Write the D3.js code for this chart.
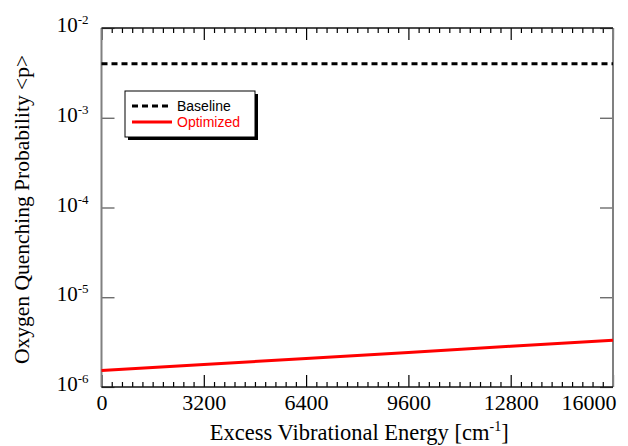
<!DOCTYPE html>
<html>
<head>
<meta charset="utf-8">
<script src="https://cdn.jsdelivr.net/npm/d3@7"></script>
<style>
  body { margin: 0; background: #fff; }
  svg { display: block; }
</style>
</head>
<body>
<div id="chart"></div>
<script>
// Oxygen quenching probability vs excess vibrational energy

const energy = [0, 3200, 6400, 9600, 12800, 16000];
const baseline = [4.0e-3, 4.0e-3, 4.0e-3, 4.0e-3, 4.0e-3, 4.0e-3];
const optimized = [1.53e-6, 1.78e-6, 2.08e-6, 2.43e-6, 2.84e-6, 3.31e-6];
const xTicks = [0, 3200, 6400, 9600, 12800, 16000];
const yTicks = [1e-6, 1e-5, 1e-4, 1e-3, 1e-2];
const yExp = ["-6", "-5", "-4", "-3", "-2"];
const legendNames = ["Baseline", "Optimized"];

const width = 628, height = 446;
const margin = { top: 28, right: 15, bottom: 59, left: 101.5 };
const w = width - margin.left - margin.right;
const h = height - margin.top - margin.bottom;

const svg = d3.select("#chart")
  .append("svg")
    .attr("width", width)
    .attr("height", height);

const g = svg.append("g")
  .attr("transform", `translate(${margin.left},${margin.top})`);

const x = d3.scaleLinear().domain([0, 16000]).range([0, w]);
const y = d3.scaleLog().domain([1e-6, 1e-2]).range([h, 0]);

const serif = "'Liberation Serif', 'Times New Roman', serif";

// minor x ticks every 320
const minorX = d3.range(0, 16001, 320).filter(v => v % 3200 !== 0);

// bottom axis
g.append("g")
  .attr("transform", `translate(0,${h})`)
  .call(d3.axisBottom(x).tickValues(minorX).tickSize(-5).tickFormat(""))
  .call(a => a.select(".domain").remove());

g.append("g")
  .attr("class", "xaxis")
  .attr("transform", `translate(0,${h})`)
  .call(d3.axisBottom(x).tickValues(xTicks).tickSize(-12).tickPadding(7).tickFormat(d3.format("d")))
  .call(a => a.select(".domain").remove())
  .call(a => a.selectAll("text")
    .style("font-family", serif)
    .style("font-size", "22px")
    .attr("fill", "#000"))
  .call(a => a.selectAll(".tick").filter(d => d === 16000).select("text")
    .attr("text-anchor", "end")
    .attr("x", 3));

// top axis
g.append("g")
  .call(d3.axisTop(x).tickValues(minorX).tickSize(-5).tickFormat(""))
  .call(a => a.select(".domain").remove());
g.append("g")
  .call(d3.axisTop(x).tickValues(xTicks).tickSize(-12).tickFormat(""))
  .call(a => a.select(".domain").remove());

// left & right axes
g.append("g")
  .call(d3.axisLeft(y).tickValues(yTicks).tickSize(-13).tickFormat(""))
  .call(a => a.select(".domain").remove())
  .call(a => a.selectAll("line").attr("stroke", "#555"));
g.append("g")
  .attr("transform", `translate(${w},0)`)
  .call(d3.axisRight(y).tickValues(yTicks).tickSize(-13).tickFormat(""))
  .call(a => a.select(".domain").remove())
  .call(a => a.selectAll("line").attr("stroke", "#555"));

g.selectAll(".tick line").attr("stroke-width", 1.2);

// frame
g.append("line").attr("x1", 0).attr("x2", 0).attr("y1", 0).attr("y2", h)
  .attr("stroke", "#808080").attr("stroke-width", 2);
g.append("line").attr("x1", w).attr("x2", w).attr("y1", 0).attr("y2", h)
  .attr("stroke", "#808080").attr("stroke-width", 2);
g.append("line").attr("x1", 0).attr("x2", w).attr("y1", 0).attr("y2", 0)
  .attr("stroke", "#111").attr("stroke-width", 1.5);
g.append("line").attr("x1", 0).attr("x2", w).attr("y1", h).attr("y2", h)
  .attr("stroke", "#111").attr("stroke-width", 1.5);

// y tick labels 10^n
const yl = g.selectAll(".ylab")
  .data(yTicks)
  .enter()
  .append("text")
    .attr("class", "ylab")
    .attr("x", -13)
    .attr("y", d => y(d) + 4)
    .attr("text-anchor", "end")
    .style("font-family", serif)
    .style("font-size", "21px");
yl.append("tspan").text("10");
yl.append("tspan")
  .attr("dy", -8)
  .style("font-size", "13px")
  .text((d, i) => yExp[i]);

// lines
const line = d3.line()
  .x((d, i) => x(energy[i]))
  .y(d => y(d));

g.append("path")
  .datum(baseline)
  .attr("fill", "none")
  .attr("stroke", "#000")
  .attr("stroke-width", 3)
  .attr("stroke-dasharray", "6,4")
  .attr("d", line);

g.append("path")
  .datum(optimized)
  .attr("fill", "none")
  .attr("stroke", "#ff0000")
  .attr("stroke-width", 3)
  .attr("d", line);

// legend
const lg = svg.append("g").attr("transform", "translate(125,91)");
lg.append("rect")
  .attr("x", 3).attr("y", 3).attr("width", 130).attr("height", 46)
  .attr("fill", "#000");
lg.append("rect")
  .attr("x", 0).attr("y", 0).attr("width", 130).attr("height", 46)
  .attr("fill", "#fff").attr("stroke", "#000").attr("stroke-width", 1);
const legColors = ["#000", "#ff0000"];
const legDash = ["6,4", null];
legendNames.forEach((name, i) => {
  lg.append("line")
    .attr("x1", 7).attr("x2", 47)
    .attr("y1", 15 + i * 16).attr("y2", 15 + i * 16)
    .attr("stroke", legColors[i])
    .attr("stroke-width", 3)
    .attr("stroke-dasharray", legDash[i]);
  lg.append("text")
    .attr("x", 52)
    .attr("y", 20 + i * 16)
    .attr("fill", legColors[i])
    .style("font-family", "'Liberation Sans', Arial, sans-serif")
    .style("font-size", "14px")
    .text(name);
});

// axis titles
const xt = svg.append("text")
  .attr("x", margin.left + w / 2 + 2)
  .attr("y", 440)
  .attr("text-anchor", "middle")
  .style("font-family", serif)
  .style("font-size", "22.5px");
xt.append("tspan").text("Excess Vibrational Energy [cm");
xt.append("tspan").attr("dy", -9).style("font-size", "14px").text("-1");
xt.append("tspan").attr("dy", 9).text("]");

svg.append("text")
  .attr("transform", "rotate(-90)")
  .attr("x", -(margin.top + h / 2 + 2))
  .attr("y", 29)
  .attr("text-anchor", "middle")
  .style("font-family", serif)
  .style("font-size", "21.5px")
  .text("Oxygen Quenching Probability <p>");
</script>
</body>
</html>
